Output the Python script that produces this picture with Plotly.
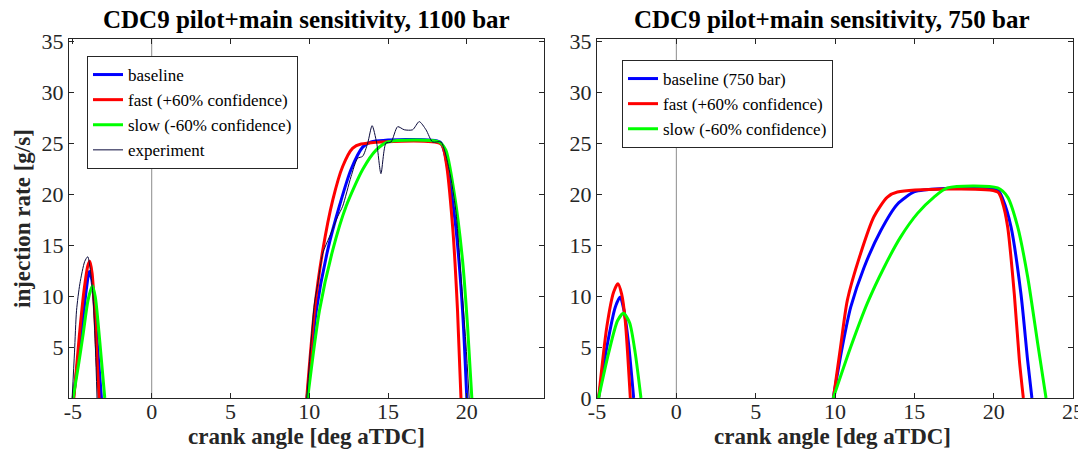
import plotly.graph_objects as go

# ---------------- data: 1100 bar (left panel) ----------------
# pilot injections
p1100_base_x = [-4.97, -4.65, -4.35, -4.12, -3.97, -3.8, -3.62, -3.5, -3.35, -3.19]
p1100_base_y = [0.0, 4.2, 8.0, 11.0, 12.4, 11.6, 8.8, 6.3, 3.2, 0.0]
p1100_fast_x = [-4.94, -4.6, -4.3, -4.05, -3.93, -3.78, -3.62, -3.47, -3.34]
p1100_fast_y = [0.0, 6.0, 10.5, 13.0, 13.4, 12.2, 8.4, 3.8, 0.0]
p1100_slow_x = [-4.99, -4.65, -4.35, -4.04, -3.76, -3.58, -3.4, -3.19, -2.98]
p1100_slow_y = [0.0, 3.2, 6.3, 9.6, 11.0, 9.9, 7.3, 3.7, 0.0]
p1100_exp_x = [-5.05, -4.9, -4.77, -4.56, -4.25, -4.06, -3.9, -3.72, -3.57, -3.47]
p1100_exp_y = [0.0, 4.5, 8.6, 11.2, 13.4, 13.85, 12.6, 9.9, 4.7, 0.0]
# main injections
m1100_base_x = [9.86, 10.45, 11.17, 11.91, 12.65, 13.39, 13.92, 18.3, 18.6, 18.88, 19.3, 19.73, 20.0]
m1100_base_y = [0.0, 8.6, 14.5, 18.8, 22.4, 24.6, 25.1, 25.1, 24.0, 21.7, 16.8, 8.6, 0.0]
m1100_fast_x = [9.84, 10.33, 10.86, 11.49, 12.12, 12.76, 13.29, 18.36, 18.67, 19.1, 19.41, 19.63]
m1100_fast_y = [0.0, 8.6, 14.5, 19.4, 22.7, 24.5, 24.9, 24.9, 23.3, 16.8, 8.6, 0.0]
m1100_slow_x = [9.9, 10.65, 11.49, 12.34, 13.39, 14.24, 14.98, 18.25, 18.67, 19.2, 19.73, 20.05, 20.32]
m1100_slow_y = [0.0, 8.6, 14.5, 18.8, 22.4, 24.3, 25.1, 25.1, 24.3, 20.1, 13.5, 7.0, 0.0]
m1100_exp_x = [9.84, 10.33, 10.54, 10.86, 11.28, 11.81, 12.12, 12.65, 13.07, 13.39, 13.71, 13.99,
               14.28, 14.55, 14.87, 15.19, 15.61, 16.03, 16.56, 16.98, 17.41, 17.83, 18.36,
               18.88, 19.3, 19.63, 19.94, 20.15]
m1100_exp_y = [0.0, 9.3, 11.2, 14.2, 15.8, 17.8, 18.8, 21.7, 23.5, 23.7, 25.0, 26.7,
               25.0, 22.0, 25.0, 25.1, 26.6, 26.3, 26.3, 27.1, 26.3, 25.1, 25.1,
               22.4, 18.4, 11.9, 5.4, 0.0]

# ---------------- data: 750 bar (right panel) ----------------
p750_base_x = [-4.9, -4.38, -3.85, -3.54, -3.3, -3.01, -2.69]
p750_base_y = [0.0, 5.0, 8.9, 9.9, 8.6, 5.3, 0.0]
p750_fast_x = [-4.9, -4.38, -3.95, -3.68, -3.45, -3.22, -2.9]
p750_fast_y = [0.0, 7.0, 10.4, 11.2, 10.2, 7.6, 0.0]
p750_slow_x = [-4.9, -4.27, -3.7, -3.33, -2.95, -2.59, -2.23]
p750_slow_y = [0.0, 4.4, 7.6, 8.3, 7.4, 4.4, 0.0]
m750_base_x = [9.89, 10.46, 10.99, 11.83, 12.88, 13.93, 14.98, 15.6, 20.25, 20.6, 21.09, 21.72, 22.14, 22.41]
m750_base_y = [0.0, 5.0, 8.9, 12.8, 16.4, 19.0, 20.2, 20.4, 20.4, 19.4, 16.8, 10.2, 3.7, 0.0]
m750_fast_x = [9.9, 10.35, 10.78, 11.62, 12.46, 13.3, 13.93, 20.25, 20.55, 20.88, 21.3, 21.62, 21.87]
m750_fast_y = [0.0, 5.0, 9.6, 14.2, 17.8, 19.7, 20.2, 20.2, 19.2, 16.8, 10.2, 3.7, 0.0]
m750_slow_x = [9.89, 10.99, 12.04, 13.09, 14.14, 15.2, 16.24, 17.09, 20.25, 20.88, 21.51, 22.14, 22.77, 23.3]
m750_slow_y = [0.0, 5.0, 9.3, 12.8, 15.8, 18.1, 19.7, 20.6, 20.6, 19.7, 16.8, 11.9, 5.4, 0.0]

left_xticks = [-5, 0, 5, 10, 15, 20]
left_yticks = [5, 10, 15, 20, 25, 30, 35]
right_xticks = [-5, 0, 5, 10, 15, 20, 25]
right_yticks = [0, 5, 10, 15, 20, 25, 30, 35]

titles = ["CDC9 pilot+main sensitivity, 1100 bar", "CDC9 pilot+main sensitivity, 750 bar"]
xlabel = "crank angle [deg aTDC]"
ylabel = "injection rate [g/s]"

BLUE, RED, GREEN, NAVY = "#0000ff", "#ff0000", "#00ff00", "#0a0a3c"
FONT = "Liberation Serif, Times New Roman, serif"

# the page body has an 8px margin: figure pixel = window pixel - 8
OFF = 8
W, H = 1078, 442
ML = 69 - OFF
MR = W - (1073 - OFF)
MT = 39 - OFF
MB = H - (398 - OFF)
PW, PH = W - ML - MR, H - MT - MB


def px(xp):
    return (xp - OFF - ML) / PW


def py(yp):
    return (H - MB - (yp - OFF)) / PH


fig = go.Figure()


def add(x, y, color, width, name, xa, ya, leg, show, smooth=0.7):
    fig.add_trace(go.Scatter(x=x, y=y, mode="lines",
                             line=dict(color=color, width=width, shape="spline", smoothing=smooth),
                             name=name, xaxis=xa, yaxis=ya, legend=leg,
                             showlegend=show, legendgroup=leg + name))


# left panel: draw order baseline, fast, slow, experiment
add(p1100_base_x, p1100_base_y, BLUE, 3, "baseline", "x", "y", "legend", True)
add(m1100_base_x, m1100_base_y, BLUE, 3, "baseline", "x", "y", "legend", False)
add(p1100_fast_x, p1100_fast_y, RED, 3, "fast (+60% confidence)", "x", "y", "legend", True)
add(m1100_fast_x, m1100_fast_y, RED, 3, "fast (+60% confidence)", "x", "y", "legend", False)
add(p1100_slow_x, p1100_slow_y, GREEN, 3, "slow (-60% confidence)", "x", "y", "legend", True)
add(m1100_slow_x, m1100_slow_y, GREEN, 3, "slow (-60% confidence)", "x", "y", "legend", False)
add(p1100_exp_x, p1100_exp_y, NAVY, 1, "experiment", "x", "y", "legend", True)
add(m1100_exp_x, m1100_exp_y, NAVY, 1, "experiment", "x", "y", "legend", False)

# right panel
add(p750_base_x, p750_base_y, BLUE, 3, "baseline (750 bar)", "x2", "y2", "legend2", True)
add(m750_base_x, m750_base_y, BLUE, 3, "baseline (750 bar)", "x2", "y2", "legend2", False)
add(p750_fast_x, p750_fast_y, RED, 3, "fast (+60% confidence)", "x2", "y2", "legend2", True)
add(m750_fast_x, m750_fast_y, RED, 3, "fast (+60% confidence)", "x2", "y2", "legend2", False)
add(p750_slow_x, p750_slow_y, GREEN, 3, "slow (-60% confidence)", "x2", "y2", "legend2", True)
add(m750_slow_x, m750_slow_y, GREEN, 3, "slow (-60% confidence)", "x2", "y2", "legend2", False)

axis_common = dict(showgrid=False, zeroline=False, showline=True, linecolor="#262626",
                   linewidth=1, mirror="ticks", ticks="inside", ticklen=5, tickcolor="#262626",
                   automargin=False, ticklabeloverflow="allow",
                   tickfont=dict(family=FONT, size=22, color="#262626"))


def labels(vals):
    return [str(v) for v in vals]


fig.update_layout(
    width=W, height=H, margin=dict(l=ML, r=MR, t=MT, b=MB, autoexpand=False),
    paper_bgcolor="white", plot_bgcolor="white",
    xaxis=dict(domain=[0, px(544)], range=[-5.25, 24.9], tickvals=left_xticks,
               ticktext=labels(left_xticks), anchor="y", ticklabelstandoff=-6, **axis_common),
    yaxis=dict(domain=[0, 1], range=[0, 35.2], tickvals=left_yticks,
               ticktext=labels(left_yticks), anchor="x", **axis_common),
    xaxis2=dict(domain=[px(597), 1], range=[-5, 25], tickvals=right_xticks,
                ticktext=labels(right_xticks), anchor="y2", ticklabelstandoff=-6, **axis_common),
    yaxis2=dict(domain=[0, 1], range=[0, 35.2], tickvals=right_yticks,
                ticktext=labels(right_yticks), anchor="x2", **axis_common),
    legend=dict(x=px(87), y=py(56), xanchor="left", yanchor="top",
                bordercolor="#262626", borderwidth=1, bgcolor="white",
                font=dict(family=FONT, size=17, color="black"), tracegroupgap=0),
    legend2=dict(x=px(622), y=py(60), xanchor="left", yanchor="top",
                 bordercolor="#262626", borderwidth=1, bgcolor="white",
                 font=dict(family=FONT, size=17, color="black"), tracegroupgap=0),
    showlegend=True,
)

for xr, yr in [("x", "y"), ("x2", "y2")]:
    fig.add_shape(type="line", xref=xr, yref=yr + " domain",
                  x0=0, x1=0, y0=0, y1=1, line=dict(color="#8c8c8c", width=1), layer="below")

centers = [px(306), px(832)]
for c, t in zip(centers, titles):
    fig.add_annotation(text="<b>" + t + "</b>", x=c, y=py(20), xref="paper", yref="paper",
                       showarrow=False, font=dict(family=FONT, size=25, color="black"),
                       xanchor="center", yanchor="middle")
    fig.add_annotation(text="<b>" + xlabel + "</b>", x=c, y=py(437), xref="paper",
                       yref="paper", showarrow=False,
                       font=dict(family=FONT, size=23, color="#262626"),
                       xanchor="center", yanchor="middle")
fig.add_annotation(text="<b>" + ylabel + "</b>", x=px(22), y=py(219), xref="paper",
                   yref="paper", showarrow=False, textangle=-90,
                   font=dict(family=FONT, size=23, color="#262626"),
                   xanchor="center", yanchor="middle")

fig.write_html("out.html")
